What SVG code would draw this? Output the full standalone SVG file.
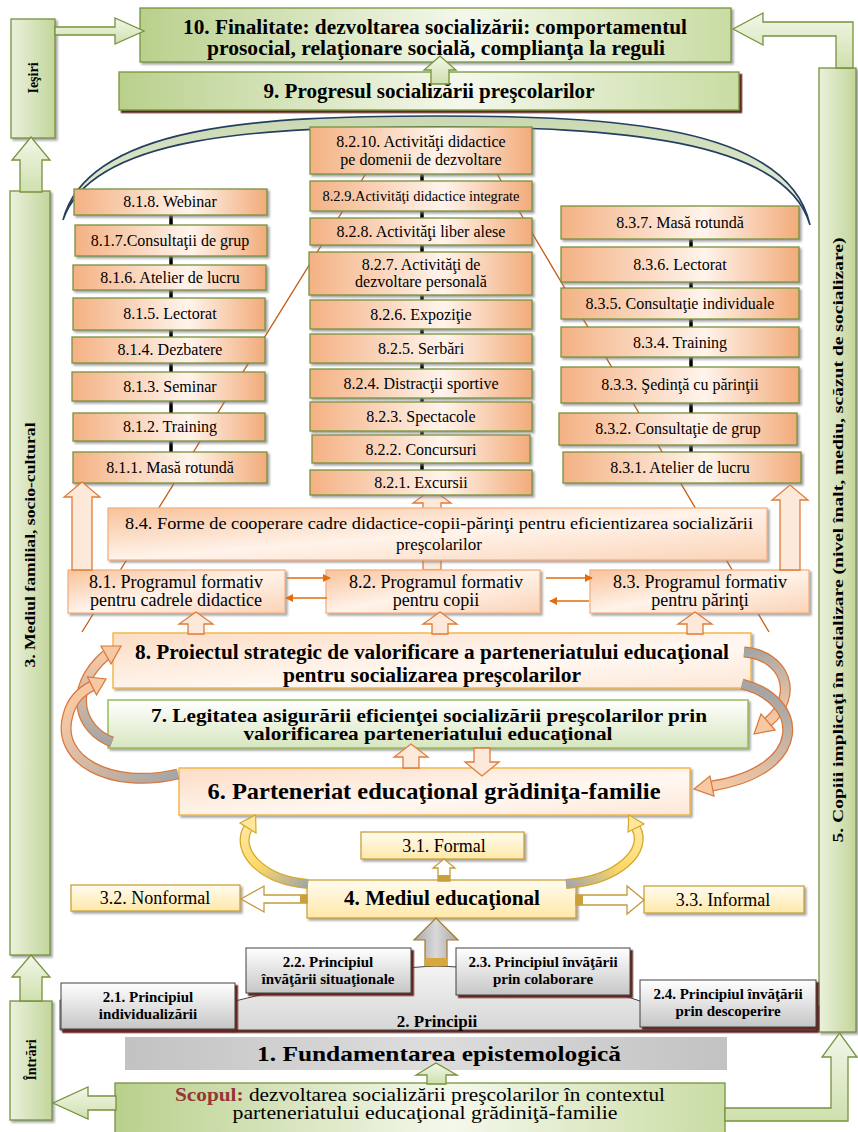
<svg xmlns="http://www.w3.org/2000/svg" width="858" height="1132" viewBox="0 0 858 1132">
<defs>
<style>
.t{font-family:"Liberation Serif","Times New Roman",serif;fill:#000;text-anchor:middle}
.s{font-size:16px}
.b{font-weight:bold}
.bxG{fill:url(#gG);stroke:#77933c;stroke-width:1.3}
.bxO{fill:url(#gO);stroke:#77933c;stroke-width:1.3;filter:url(#sh)}
.bxP{fill:url(#gP);stroke:#f4b183;stroke-width:1.3;filter:url(#sh)}
.bx8{fill:url(#g8);stroke:#f2b84b;stroke-width:1.5;filter:url(#sh)}
.bx7{fill:url(#g7);stroke:#9bbb59;stroke-width:1.5;filter:url(#sh)}
.bxY{fill:url(#gY);stroke:#c9a43a;stroke-width:1.3;filter:url(#sh)}
.bxW{fill:url(#gW);stroke:#404040;stroke-width:1;filter:url(#shr)}
.arG{fill:url(#gGa);stroke:#77933c;stroke-width:1.3}
.arO{fill:#fde9d9;stroke:#e07b39;stroke-width:1.3}
.arY{fill:#ffffff;stroke:#c49a3c;stroke-width:1.3}
.ln{stroke:#c55a11;stroke-width:1.3;fill:none}
.blk{stroke:#000;stroke-width:3.5;fill:none}
.thin{stroke:#e46c0a;stroke-width:1.6;fill:none;marker-end:url(#ah)}
.pr{font-size:15px;font-weight:bold}
</style>
<filter id="sh" x="-5%" y="-10%" width="115%" height="140%"><feDropShadow dx="2" dy="2" stdDeviation="1" flood-color="#7f7f7f" flood-opacity="0.7"/></filter>
<filter id="shr" x="-5%" y="-10%" width="115%" height="140%"><feDropShadow dx="2.5" dy="2.5" stdDeviation="0.4" flood-color="#632523" flood-opacity="1"/></filter>
<linearGradient id="gG" x1="0" y1="0" x2="1" y2="0"><stop offset="0" stop-color="#b9d08c"/><stop offset="0.55" stop-color="#f4f8ec"/><stop offset="1" stop-color="#c9dca3"/></linearGradient>
<linearGradient id="gGb" x1="0" y1="0" x2="1" y2="0"><stop offset="0" stop-color="#eaf1dc"/><stop offset="1" stop-color="#c3d69b"/></linearGradient>
<linearGradient id="gGa" x1="0" y1="0" x2="0" y2="1"><stop offset="0" stop-color="#f2f7e9"/><stop offset="1" stop-color="#cfe0ad"/></linearGradient>
<linearGradient id="gO" x1="0" y1="0" x2="1" y2="0"><stop offset="0" stop-color="#f4b183"/><stop offset="0.6" stop-color="#fff4ec"/><stop offset="1" stop-color="#f2ab7a"/></linearGradient>
<linearGradient id="gP" x1="0" y1="0" x2="1" y2="1"><stop offset="0" stop-color="#f8c29a"/><stop offset="0.5" stop-color="#fff3ea"/><stop offset="1" stop-color="#fbd3b6"/></linearGradient>
<linearGradient id="g8" x1="0" y1="0" x2="1" y2="1"><stop offset="0" stop-color="#fcdcc4"/><stop offset="0.6" stop-color="#fff8f2"/><stop offset="1" stop-color="#fde7d6"/></linearGradient>
<linearGradient id="g7" x1="0" y1="0" x2="0" y2="1"><stop offset="0" stop-color="#ffffff"/><stop offset="1" stop-color="#d7e6bf"/></linearGradient>
<linearGradient id="gY" x1="0" y1="0" x2="0" y2="1"><stop offset="0" stop-color="#fffbf0"/><stop offset="1" stop-color="#ffe8a8"/></linearGradient>
<linearGradient id="gW" x1="0" y1="0" x2="0" y2="1"><stop offset="0" stop-color="#ffffff"/><stop offset="1" stop-color="#c6c6c6"/></linearGradient>
<linearGradient id="gPr" x1="0" y1="0" x2="0" y2="1"><stop offset="0" stop-color="#f4f4f4"/><stop offset="1" stop-color="#d6d6d6"/></linearGradient>
<linearGradient id="g1" x1="0" y1="0" x2="1" y2="0"><stop offset="0" stop-color="#c2c2c2"/><stop offset="0.5" stop-color="#dddddd"/><stop offset="1" stop-color="#c2c2c2"/></linearGradient>
<linearGradient id="gArc" x1="0" y1="0" x2="0" y2="1"><stop offset="0" stop-color="#c9d8b0"/><stop offset="1" stop-color="#eef3e4"/></linearGradient>
<linearGradient id="gGr" x1="0" y1="0" x2="1" y2="0"><stop offset="0" stop-color="#a6a6a6"/><stop offset="0.5" stop-color="#d9d9d9"/><stop offset="1" stop-color="#a6a6a6"/></linearGradient>
<linearGradient id="cA" gradientUnits="userSpaceOnUse" x1="112" y1="742" x2="106" y2="655"><stop offset="0" stop-color="#a5a5a5"/><stop offset="1" stop-color="#f6c8a4"/></linearGradient>
<linearGradient id="cB" gradientUnits="userSpaceOnUse" x1="178" y1="774" x2="92" y2="686"><stop offset="0" stop-color="#a5a5a5"/><stop offset="1" stop-color="#f6c8a4"/></linearGradient>
<linearGradient id="cC" gradientUnits="userSpaceOnUse" x1="744" y1="652" x2="768" y2="722"><stop offset="0" stop-color="#a5a5a5"/><stop offset="1" stop-color="#f6c8a4"/></linearGradient>
<linearGradient id="cD" gradientUnits="userSpaceOnUse" x1="742" y1="684" x2="712" y2="786"><stop offset="0" stop-color="#a5a5a5"/><stop offset="1" stop-color="#f6c8a4"/></linearGradient>
<linearGradient id="cY1" gradientUnits="userSpaceOnUse" x1="308" y1="884" x2="248" y2="828"><stop offset="0" stop-color="#a5a5a5"/><stop offset="0.6" stop-color="#ffd966"/><stop offset="1" stop-color="#ffe699"/></linearGradient>
<linearGradient id="cY2" gradientUnits="userSpaceOnUse" x1="566" y1="884" x2="636" y2="828"><stop offset="0" stop-color="#a5a5a5"/><stop offset="0.6" stop-color="#ffd966"/><stop offset="1" stop-color="#ffe699"/></linearGradient>
<marker id="ah" viewBox="0 0 10 10" refX="9" refY="5" markerWidth="5" markerHeight="5" orient="auto"><path d="M0,0 L10,5 L0,10 z" fill="#e46c0a"/></marker>
</defs>

<rect x="0" y="0" width="858" height="1132" fill="#ffffff"/>

<g id="connectors-back">
  <line class="ln" x1="82" y1="632" x2="399" y2="120"/>
  <line class="ln" x1="465" y1="120" x2="769" y2="632"/>
  <line class="blk" x1="171" y1="200" x2="171" y2="470"/>
  <line class="blk" x1="422" y1="118" x2="422" y2="485"/>
  <line class="blk" x1="691" y1="220" x2="691" y2="470"/>
  <path d="M63,220 C88,125 260,116 436,116 C612,116 788,125 810,225 C785,138 612,127 436,127 C260,127 92,135 63,220 Z" fill="url(#gArc)" stroke="#243f60" stroke-width="1.6"/>
  <polygon class="arO" points="423,570 423,503 413,503 432,489 451,503 441,503 441,570"/>
</g>

<g id="n-iesiri"><rect x="11" y="19" width="44" height="119" fill="url(#gGb)" stroke="#77933c" stroke-width="1.3" filter="url(#sh)"/><text class="t b" font-size="14" transform="translate(38,78) rotate(-90)">Ieşiri</text></g>
<g id="n3"><rect x="10" y="191" width="40" height="764" fill="url(#gGb)" stroke="#77933c" stroke-width="1.3" filter="url(#sh)"/><text class="t b" font-size="15" textLength="245" lengthAdjust="spacingAndGlyphs" transform="translate(35,545) rotate(-90)">3. Mediul familial, socio-cultural</text></g>
<g id="n-intrari"><rect x="10" y="1001" width="42" height="119" fill="url(#gGb)" stroke="#77933c" stroke-width="1.3" filter="url(#sh)"/><text class="t b" font-size="14" transform="translate(36,1060) rotate(-90)">Întrări</text></g>
<g id="n5"><rect x="819" y="68" width="37" height="964" fill="url(#gGb)" stroke="#77933c" stroke-width="1.3" filter="url(#sh)"/><text class="t b" font-size="15" textLength="605" lengthAdjust="spacingAndGlyphs" transform="translate(843,540) rotate(-90)">5. Copiii implicaţi în socializare  (nivel înalt, mediu, scăzut de socializare)</text></g>

<g id="n10"><rect class="bxG" x="140" y="8" width="591" height="54" filter="url(#sh)"/>
<text class="t b" font-size="20" x="435" y="34" textLength="504" lengthAdjust="spacingAndGlyphs">10. Finalitate: dezvoltarea socializării: comportamentul</text>
<text class="t b" font-size="20" x="436" y="55" textLength="458" lengthAdjust="spacingAndGlyphs">prosocial, relaţionare socială, complianţa la reguli</text></g>
<g id="n9"><rect class="bxG" x="119" y="72" width="620" height="38" filter="url(#shr)"/>
<text class="t b" font-size="20" x="429" y="98" textLength="331" lengthAdjust="spacingAndGlyphs">9. Progresul socializării preşcolarilor</text></g>

<g id="n818"><rect class="bxO" x="74" y="189" width="193" height="26"/><text class="t s" x="170" y="207">8.1.8. Webinar</text></g>
<g id="n817"><rect class="bxO" x="75" y="225" width="192" height="31"/><text class="t s" x="170" y="246">8.1.7.Consultaţii de grup</text></g>
<g id="n816"><rect class="bxO" x="73" y="265" width="193" height="25"/><text class="t s" x="170" y="283">8.1.6. Atelier de lucru</text></g>
<g id="n815"><rect class="bxO" x="73" y="298" width="192" height="32"/><text class="t s" x="170" y="319">8.1.5. Lectorat</text></g>
<g id="n814"><rect class="bxO" x="72" y="337" width="193" height="26"/><text class="t s" x="170" y="355">8.1.4. Dezbatere</text></g>
<g id="n813"><rect class="bxO" x="72" y="372" width="193" height="29"/><text class="t s" x="170" y="392">8.1.3. Seminar</text></g>
<g id="n812"><rect class="bxO" x="73" y="413" width="192" height="28"/><text class="t s" x="170" y="432">8.1.2. Training</text></g>
<g id="n811"><rect class="bxO" x="73" y="452" width="194" height="31"/><text class="t s" x="170" y="473">8.1.1. Masă rotundă</text></g>

<g id="n8210"><rect class="bxO" x="310" y="127" width="222" height="47"/><text class="t s" x="421" y="147">8.2.10. Activităţi didactice</text><text class="t s" x="421" y="165">pe domenii de dezvoltare</text></g>
<g id="n829"><rect class="bxO" x="310" y="181" width="222" height="30"/><text class="t" font-size="15" x="421" y="201" textLength="197" lengthAdjust="spacingAndGlyphs">8.2.9.Activităţi didactice integrate</text></g>
<g id="n828"><rect class="bxO" x="310" y="218" width="222" height="27"/><text class="t s" x="421" y="237">8.2.8. Activităţi liber alese</text></g>
<g id="n827"><rect class="bxO" x="309" y="252" width="223" height="43"/><text class="t s" x="421" y="270">8.2.7. Activităţi de</text><text class="t s" x="421" y="287">dezvoltare personală</text></g>
<g id="n826"><rect class="bxO" x="310" y="300" width="222" height="29"/><text class="t s" x="421" y="320">8.2.6. Expoziţie</text></g>
<g id="n825"><rect class="bxO" x="310" y="334" width="222" height="29"/><text class="t s" x="421" y="354">8.2.5. Serbări</text></g>
<g id="n824"><rect class="bxO" x="310" y="369" width="222" height="29"/><text class="t s" x="421" y="389">8.2.4. Distracţii sportive</text></g>
<g id="n823"><rect class="bxO" x="310" y="402" width="222" height="29"/><text class="t s" x="421" y="422">8.2.3. Spectacole</text></g>
<g id="n822"><rect class="bxO" x="312" y="435" width="218" height="28"/><text class="t s" x="421" y="455">8.2.2. Concursuri</text></g>
<g id="n821"><rect class="bxO" x="310" y="470" width="222" height="25"/><text class="t s" x="421" y="488">8.2.1. Excursii</text></g>

<g id="n837"><rect class="bxO" x="561" y="206" width="238" height="33"/><text class="t s" x="680" y="228">8.3.7. Masă rotundă</text></g>
<g id="n836"><rect class="bxO" x="561" y="247" width="238" height="35"/><text class="t s" x="680" y="270">8.3.6. Lectorat</text></g>
<g id="n835"><rect class="bxO" x="561" y="288" width="238" height="31"/><text class="t s" x="680" y="309">8.3.5. Consultaţie individuale</text></g>
<g id="n834"><rect class="bxO" x="561" y="327" width="238" height="30"/><text class="t s" x="680" y="348">8.3.4. Training</text></g>
<g id="n833"><rect class="bxO" x="561" y="367" width="238" height="36"/><text class="t s" x="680" y="390">8.3.3. Şedinţă cu părinţii</text></g>
<g id="n832"><rect class="bxO" x="559" y="413" width="238" height="32"/><text class="t s" x="678" y="434">8.3.2. Consultaţie de grup</text></g>
<g id="n831"><rect class="bxO" x="563" y="452" width="238" height="31"/><text class="t s" x="680" y="473">8.3.1. Atelier de lucru</text></g>

<g id="n84"><rect class="bxP" x="108" y="508" width="659" height="52"/><text class="t" font-size="17" x="439" y="529" textLength="628" lengthAdjust="spacingAndGlyphs">8.4. Forme de cooperare cadre didactice-copii-părinţi pentru eficientizarea socializării</text><text class="t" font-size="17" x="439" y="550">preşcolarilor</text></g>
<g id="n81"><rect class="bxP" x="68" y="570" width="217" height="43"/><text class="t" font-size="18" x="176" y="588">8.1. Programul formativ</text><text class="t" font-size="18" x="176" y="606">pentru cadrele didactice</text></g>
<g id="n82"><rect class="bxP" x="326" y="570" width="214" height="43"/><text class="t" font-size="18" x="436" y="588">8.2. Programul formativ</text><text class="t" font-size="18" x="436" y="606">pentru copii</text></g>
<g id="n83"><rect class="bxP" x="590" y="570" width="219" height="43"/><text class="t" font-size="18" x="700" y="588">8.3. Programul formativ</text><text class="t" font-size="18" x="700" y="606">pentru părinţi</text></g>

<g id="n8"><rect class="bx8" x="113" y="633" width="638" height="55"/><text class="t b" font-size="20" x="432" y="659" textLength="594" lengthAdjust="spacingAndGlyphs">8. Proiectul strategic de valorificare a parteneriatului educaţional</text><text class="t b" font-size="20" x="432" y="682" textLength="298" lengthAdjust="spacingAndGlyphs">pentru socializarea preşcolarilor</text></g>
<g id="n7"><rect class="bx7" x="108" y="700" width="640" height="48"/><text class="t b" font-size="18" x="429" y="722" textLength="556" lengthAdjust="spacingAndGlyphs">7. Legitatea asigurării eficienţei socializării preşcolarilor prin</text><text class="t b" font-size="18" x="428" y="740" textLength="369" lengthAdjust="spacingAndGlyphs">valorificarea parteneriatului educaţional</text></g>
<g id="n6"><rect class="bx8" x="179" y="768" width="511" height="47"/><text class="t b" font-size="24" x="434" y="799" textLength="453" lengthAdjust="spacingAndGlyphs">6. Parteneriat educaţional grădiniţa-familie</text></g>

<g id="n31"><rect class="bxY" x="361" y="832" width="163" height="27"/><text class="t" font-size="18" x="444" y="852">3.1. Formal</text></g>
<g id="n4"><rect class="bxY" x="307" y="880" width="269" height="38"/><text class="t b" font-size="20" x="442" y="905" textLength="196" lengthAdjust="spacingAndGlyphs">4. Mediul educaţional</text></g>
<g id="n32"><rect class="bxY" x="71" y="885" width="169" height="26"/><text class="t" font-size="18" x="155" y="904">3.2. Nonformal</text></g>
<g id="n33"><rect class="bxY" x="644" y="886" width="160" height="27"/><text class="t" font-size="18" x="723" y="906">3.3. Informal</text></g>

<g id="n2"><path d="M60,1030 L60,1000 L235,1001 C300,985 380,968 436,966 C500,968 580,980 640,1001 L816,1003 L816,1030 Z" fill="url(#gPr)" stroke="#404040" stroke-width="1" filter="url(#shr)"/>
<text class="t b" font-size="17" x="437" y="1027">2. Principii</text></g>
<g id="n21"><rect class="bxW" x="61" y="983" width="174" height="46"/><text class="t pr" x="148" y="1002">2.1. Principiul</text><text class="t pr" x="148" y="1019">individualizării</text></g>
<g id="n22"><rect class="bxW" x="246" y="948" width="165" height="45"/><text class="t pr" x="328" y="967">2.2. Principiul</text><text class="t pr" x="328" y="984">învăţării situaţionale</text></g>
<g id="n23"><rect class="bxW" x="456" y="948" width="174" height="47"/><text class="t pr" x="543" y="967">2.3. Principiul învăţării</text><text class="t pr" x="543" y="984">prin colaborare</text></g>
<g id="n24"><rect class="bxW" x="640" y="980" width="176" height="47"/><text class="t pr" x="728" y="999">2.4. Principiul învăţării</text><text class="t pr" x="728" y="1016">prin descoperire</text></g>

<g id="n1"><rect x="125" y="1037" width="602" height="33" fill="url(#g1)"/><text class="t b" font-size="21" x="439" y="1061" textLength="364" lengthAdjust="spacingAndGlyphs">1. Fundamentarea epistemologică</text></g>
<g id="n-scop"><rect x="115" y="1083" width="610" height="52" fill="url(#gG)" stroke="#77933c" stroke-width="1.3"/>
<text class="t" font-size="18" x="420" y="1101" textLength="490" lengthAdjust="spacingAndGlyphs"><tspan font-weight="bold" fill="#953735">Scopul:</tspan> dezvoltarea socializării preşcolarilor în contextul</text>
<text class="t" font-size="18" x="425" y="1119" textLength="385" lengthAdjust="spacingAndGlyphs">parteneriatului educaţional grădiniţă-familie</text></g>

<g id="connectors">
  <polygon class="arG" points="55,27 115,27 115,18 144,31 115,44 115,35 55,35"/>
  <polygon class="arG" points="836,68 836,36 763,36 763,45 733,29 763,13 763,22 853,22 853,68"/>
  <polygon class="arG" points="431,84 431,70 424,70 440,56 456,70 449,70 449,84"/>
  <polygon class="arG" points="20,192 20,160 12,160 31,137 50,160 42,160 42,192"/>
  <polygon class="arG" points="20,1001 20,977 12,977 31,955 50,977 42,977 42,1001"/>
  <polygon class="arG" points="427,1084 427,1075 416,1075 436,1063 457,1075 446,1075 446,1084"/>
  <polygon class="arG" points="116,1096 88,1096 88,1087 53,1103 88,1119 88,1110 116,1110"/>
  <polygon class="arG" points="725,1108 831,1108 831,1057 822,1057 839.5,1033 857,1057 848,1057 848,1121 725,1121"/>

  <polygon class="arO" points="72,570 72,497 64,497 82,482 100,497 92,497 92,570"/>
  <polygon class="arO" points="780,570 780,500 772,500 790,485 808,500 800,500 800,570"/>

  <line class="thin" x1="287" y1="578" x2="330" y2="578"/>
  <line class="thin" x1="327" y1="598" x2="286" y2="598"/>
  <line class="thin" x1="546" y1="578" x2="592" y2="578"/>
  <line class="thin" x1="589" y1="601" x2="550" y2="601"/>

  <polygon class="arO" points="188,634 188,624 179,624 196,612 213,624 204,624 204,634"/>
  <polygon class="arO" points="432,634 432,624 423,624 440,612 457,624 448,624 448,634"/>
  <polygon class="arO" points="687,634 687,624 678,624 695,612 712,624 703,624 703,634"/>

  <polygon class="arO" points="403,768 403,757 394,757 411,744 428,757 419,757 419,768"/>
  <polygon class="arO" points="474,748 474,762 465,762 482,776 499,762 490,762 490,748"/>

  <path d="M112,742 C80,730 66,690 106,655" fill="none" stroke="#d9773a" stroke-width="11"/>
  <path d="M112,742 C80,730 66,690 106,655" fill="none" stroke="url(#cA)" stroke-width="8.5"/>
  <polygon points="111,664 101,646 121,646" fill="#f6c8a4" stroke="#d9773a" stroke-width="1.2"/>
  <path d="M178,774 C110,790 55,760 68,715 C72,700 80,692 92,686" fill="none" stroke="#d9773a" stroke-width="11"/>
  <path d="M178,774 C110,790 55,760 68,715 C72,700 80,692 92,686" fill="none" stroke="url(#cB)" stroke-width="8.5"/>
  <polygon points="96.5,695 87.5,677 106,679" fill="#f6c8a4" stroke="#d9773a" stroke-width="1.2"/>
  <path d="M744,652 C785,655 800,695 768,722" fill="none" stroke="#d9773a" stroke-width="11"/>
  <path d="M744,652 C785,655 800,695 768,722" fill="none" stroke="url(#cC)" stroke-width="8.5"/>
  <polygon points="775,730 761,714 754,734" fill="#f6c8a4" stroke="#d9773a" stroke-width="1.2"/>
  <path d="M742,684 C805,700 810,770 712,786" fill="none" stroke="#d9773a" stroke-width="11"/>
  <path d="M742,684 C805,700 810,770 712,786" fill="none" stroke="url(#cD)" stroke-width="8.5"/>
  <polygon points="714,796 710,776 694,789" fill="#f6c8a4" stroke="#d9773a" stroke-width="1.2"/>

  <path d="M308,884 C260,880 235,850 248,828" fill="none" stroke="#d4a72c" stroke-width="10"/>
  <path d="M308,884 C260,880 235,850 248,828" fill="none" stroke="url(#cY1)" stroke-width="7.5"/>
  <polygon points="256,833 240,823 255.6,815" fill="#ffe699" stroke="#d4a72c" stroke-width="1.2"/>
  <path d="M566,884 C620,880 648,850 636,828" fill="none" stroke="#d4a72c" stroke-width="10"/>
  <path d="M566,884 C620,880 648,850 636,828" fill="none" stroke="url(#cY2)" stroke-width="7.5"/>
  <polygon points="644,824 628,832 628.8,815" fill="#ffe699" stroke="#d4a72c" stroke-width="1.2"/>

  <polygon class="arY" points="438,881 438,868 433,868 444,859 455,868 450,868 450,881"/>
  <rect x="438" y="875" width="12" height="6" fill="#c9a03a"/>
  <polygon class="arY" points="307,895 264,895 264,886 241,899 264,912 264,903 307,903"/>
  <rect x="300" y="895" width="7" height="8" fill="#c9a03a"/>
  <polygon class="arY" points="576,895 627,895 627,886 644,900 627,914 627,905 576,905"/>
  <rect x="576" y="895" width="7" height="10" fill="#c9a03a"/>
  <polygon points="425,966 425,940 414,940 436,918 458,940 447,940 447,966" fill="url(#gGr)" stroke="#a07a2a" stroke-width="1.2"/>
  <rect x="425" y="958" width="22" height="8" fill="#d8a740"/>
</g>
</svg>
